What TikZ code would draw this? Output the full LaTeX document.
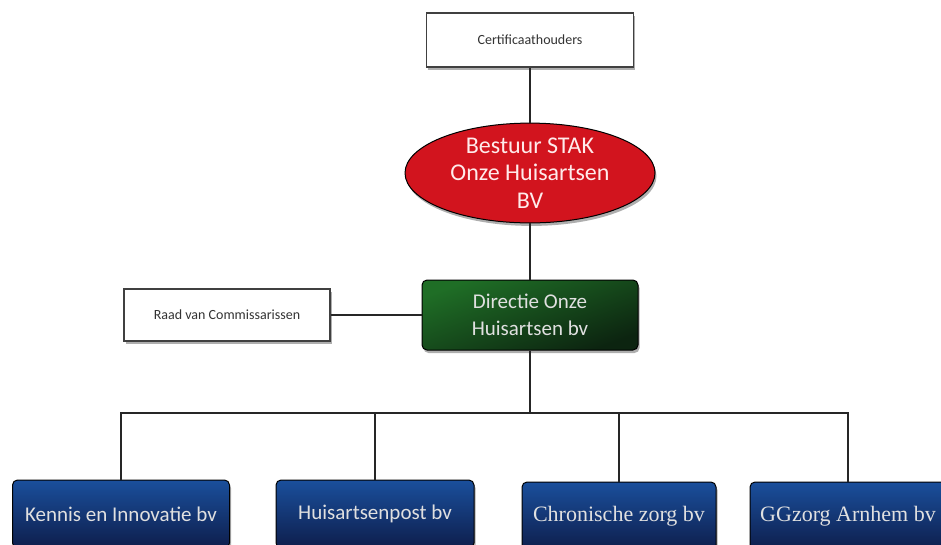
\documentclass[tikz,border=0pt]{standalone}
\usepackage{fontspec}
\setmainfont{Carlito}
\newfontfamily\serifb{Liberation Serif}
\usetikzlibrary{shapes.geometric,shadows}
\definecolor{redfill}{HTML}{D2141E}
\definecolor{grtop}{HTML}{1F6E26}
\definecolor{grbot}{HTML}{0C2410}
\definecolor{bltop}{HTML}{1A4F9C}
\definecolor{blbot}{HTML}{0E1E4C}
\definecolor{txtgray}{HTML}{333333}
\tikzset{
  shad/.style={drop shadow={shadow xshift=1.5pt,shadow yshift=-3pt,opacity=0.45,fill=black!70}},
  whitebox/.style={draw=black!75,line width=1.2pt,fill=white,shad,minimum width=207pt,minimum height=54pt,inner sep=0pt,font=\fontsize{14}{16}\selectfont,text=txtgray},
  redell/.style={ellipse,draw=black,line width=1pt,fill=redfill,shad,minimum width=250pt,minimum height=90pt,inner sep=0pt,text=white!92!red,align=center,font=\fontsize{24}{27.5}\selectfont},
  greenbox/.style={draw=black,line width=1pt,rounded corners=5pt,top color=grtop,bottom color=grbot,shading angle=20,shad,minimum width=216pt,minimum height=70pt,inner sep=0pt,text=white!88!black,align=center,font=\fontsize{21}{27}\selectfont},
  bluebox/.style={draw=black,line width=1pt,rounded corners=5pt,top color=bltop,bottom color=blbot,shad,minimum height=68pt,inner sep=0pt,text=white!88!black,font=\fontsize{21}{24}\selectfont},
  serifbox/.style={bluebox,font=\serifb\fontsize{22}{24}\selectfont},
  conn/.style={draw=black!85,line width=1.6pt}
}
\begin{document}
\begin{tikzpicture}[x=1pt,y=-1pt]
\useasboundingbox (0,0) rectangle (941,544);
\node[whitebox] (cert) at (530,40) {Certificaathouders};
\node[redell] (stak) at (530,173) {Bestuur STAK\\Onze Huisartsen\\BV};
\node[greenbox] (dir) at (530,315) {Directie Onze\\Huisartsen bv};
\node[whitebox,minimum width=206pt,minimum height=52pt] (raad) at (227,315) {Raad van Commissarissen};
\node[bluebox,minimum width=217pt] (ki) at (121,514) {Kennis en Innovatie bv};
\node[bluebox,minimum width=198pt] (hp) at (375,514) {Huisartsenpost bv};
\node[serifbox,minimum width=194pt] (cz) at (619,516) {Chronische zorg bv};
\node[serifbox,minimum width=196pt] (gg) at (848,516) {GGzorg Arnhem bv};
\coordinate (bus) at (530,413);
\draw[conn] (cert.south) -- (stak.north);
\draw[conn] (stak.south) -- (dir.north);
\draw[conn] (raad.east) -- (dir.west);
\draw[conn] (dir.south) -- (bus);
\draw[conn] (ki.north) |- (bus) -| (gg.north);
\draw[conn] (hp.north) -- (hp.north |- bus);
\draw[conn] (cz.north) -- (cz.north |- bus);
\end{tikzpicture}
\end{document}
